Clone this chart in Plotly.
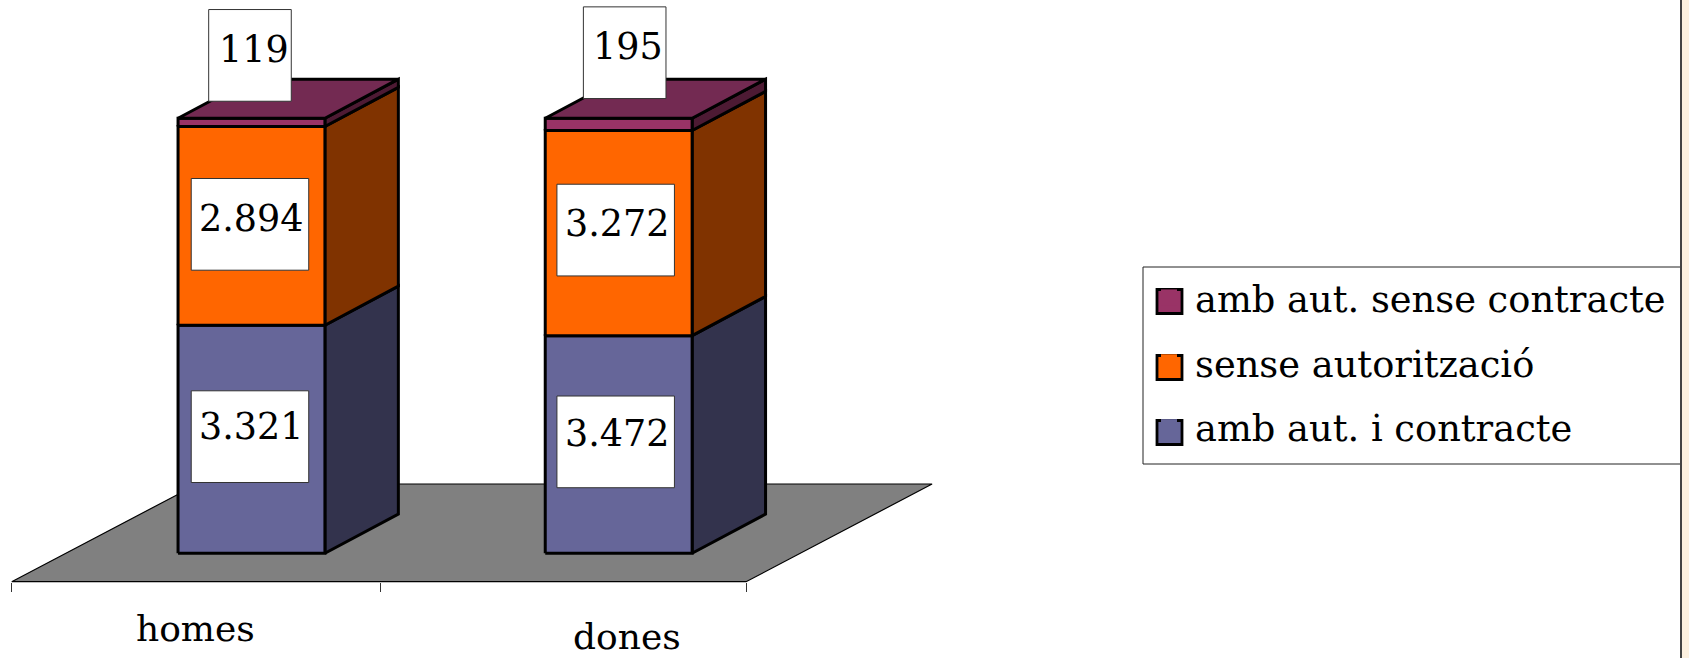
import plotly.graph_objects as go

categories = ["homes", "dones"]
series_names = ["amb aut. i contracte", "sense autorització", "amb aut. sense contracte"]
values = {
    "amb aut. i contracte": [3321, 3472],
    "sense autorització": [2894, 3272],
    "amb aut. sense contracte": [119, 195],
}
label_text = {
    "amb aut. i contracte": ["3.321", "3.472"],
    "sense autorització": ["2.894", "3.272"],
    "amb aut. sense contracte": ["119", "195"],
}
front_colors = ["#666699", "#FF6600", "#993366"]
side_colors = ["#33334D", "#803300", "#4D1A33"]
top_color = "#732A52"

# label placement offsets in pixels from the segment centre: (box dx, box dy, text dx, text dy)
label_offsets = {
    "amb aut. i contracte": [(-1.5, 2.6, 0, 13), (-3, 2.6, -1, 11)],
    "sense autorització": [(-1.5, 1.5, 0.5, 7.5), (-3, 3, -1, 9.4)],
    "amb aut. sense contracte": [(-1.5, 67, 2.5, 73), (6, 71.7, 9, 78)],
}

W, H = 1689, 658
PX_X = 367.2      # pixels per category slot
PX_Y = 4.35       # pixels per percent
X0_PX = 11.7
Y0_PX = 553.3
FONT = "DejaVu Serif"

bar_offset = 0.653
bar_half = 0.2
depth_x = 0.2
depth_y = 9.0
floor_front = -6.53
floor_back = 15.93
floor_dx = 0.5065

fig = go.Figure()


def poly(xs, ys, fill, lw=3, lc="#000000"):
    fig.add_trace(go.Scatter(
        x=xs + xs[:1], y=ys + ys[:1], mode="lines", fill="toself", fillcolor=fill,
        line=dict(color=lc, width=lw), showlegend=False, hoverinfo="skip"))


# floor
n = len(categories)
poly([0, n, n + floor_dx, floor_dx], [floor_front, floor_front, floor_back, floor_back], "#808080", lw=1.2)

annotations = []
shapes = []
for c, cat in enumerate(categories):
    total = sum(values[s][c] for s in series_names)
    xl = c + bar_offset - bar_half
    xr = c + bar_offset + bar_half
    base = 0.0
    for i, s in enumerate(series_names):
        h = values[s][c] / total * 100
        top = base + h
        poly([xr, xr + depth_x, xr + depth_x, xr], [base, base + depth_y, top + depth_y, top], side_colors[i])
        poly([xl, xr, xr, xl], [base, base, top, top], front_colors[i])
        small = h < 5
        bw = 82.6 if small else 117.5
        bh = 91.7
        bdx, bdy, tdx, tdy = label_offsets[s][c]
        xc = c + bar_offset
        yc = base + h / 2
        shapes.append(dict(type="rect", xref="x", yref="y", xsizemode="pixel", ysizemode="pixel",
                           xanchor=xc, yanchor=yc,
                           x0=bdx - bw / 2, x1=bdx + bw / 2, y0=bdy - bh / 2, y1=bdy + bh / 2,
                           fillcolor="#FFFFFF", line=dict(color="#333333", width=1), layer="above"))
        annotations.append(dict(
            x=xc, y=yc, xref="x", yref="y",
            text=label_text[s][c], showarrow=False,
            font=dict(family=FONT, size=36.5, color="#000000"),
            xshift=tdx, yshift=tdy,
        ))
        base = top
    poly([xl, xr, xr + depth_x, xl + depth_x], [100, 100, 100 + depth_y, 100 + depth_y], top_color)

annotations.append(dict(x=0.5, y=floor_front, xref="x", yref="y", text="homes", showarrow=False,
                        font=dict(family=FONT, size=36, color="#000000"), yshift=-47))
annotations.append(dict(x=1.5, y=floor_front, xref="x", yref="y", text="dones", showarrow=False,
                        font=dict(family=FONT, size=36, color="#000000"), xshift=64, yshift=-55))

# legend entries, top row first
for i in reversed(range(len(series_names))):
    s = series_names[i]
    fig.add_trace(go.Scatter(
        x=[None], y=[None], mode="markers", name=s, legendgroup=s,
        marker=dict(symbol="square", size=16, color=front_colors[i], line=dict(width=0))))


def px_rect(x0, x1, y0, y1, **kw):
    return dict(type="rect", xref="paper", yref="paper",
                x0=x0 / W, x1=x1 / W, y0=1 - y1 / H, y1=1 - y0 / H, **kw)


# legend frame and swatch outlines behind the legend
frame = [px_rect(1143, 1688, 267, 464, fillcolor="#FFFFFF", line=dict(color="#222222", width=1), layer="above")]
swatch_centres = [301.5, 367.5, 432.5]
swatches = [px_rect(1157, 1182, yc - 12, yc + 12, fillcolor=col, line=dict(color="#000000", width=2.8), layer="above")
            for yc, col in zip(swatch_centres, reversed(front_colors))]
strip = [px_rect(1682, 1689, 0, 658, fillcolor="#FDF1E0", line=dict(width=0), layer="above"),
         px_rect(1680, 1682, 0, 658, fillcolor="#444444", line=dict(width=0), layer="above")]

fig.update_layout(
    width=W, height=H, margin=dict(l=0, r=0, t=0, b=0),
    paper_bgcolor="#FFFFFF", plot_bgcolor="rgba(0,0,0,0)",
    showlegend=True,
    legend=dict(x=1143 / W, y=1 - 267 / H, xanchor="left", yanchor="top",
                bgcolor="rgba(0,0,0,0)", borderwidth=0,
                traceorder="grouped", tracegroupgap=14, itemsizing="trace", itemwidth=42,
                font=dict(family=FONT, size=36.8, color="#000000")),
    xaxis=dict(range=[-X0_PX / PX_X, (W - X0_PX) / PX_X], anchor="free",
               position=(H - 581.7) / H,
               tickmode="array", tickvals=[0, 1.003, 2], ticktext=["", "", ""],
               ticks="outside", ticklen=9, tickcolor="#333333", tickwidth=1,
               showline=False, showgrid=False, zeroline=False, fixedrange=True),
    yaxis=dict(range=[-(H - Y0_PX) / PX_Y, Y0_PX / PX_Y], visible=False, fixedrange=True),
    annotations=annotations,
    hovermode=False,
    shapes=shapes + frame + swatches + strip,
)

fig.write_html("out.html", config=dict(displayModeBar=False),
               post_script="document.body.style.margin='0';document.body.style.overflow='hidden';")
